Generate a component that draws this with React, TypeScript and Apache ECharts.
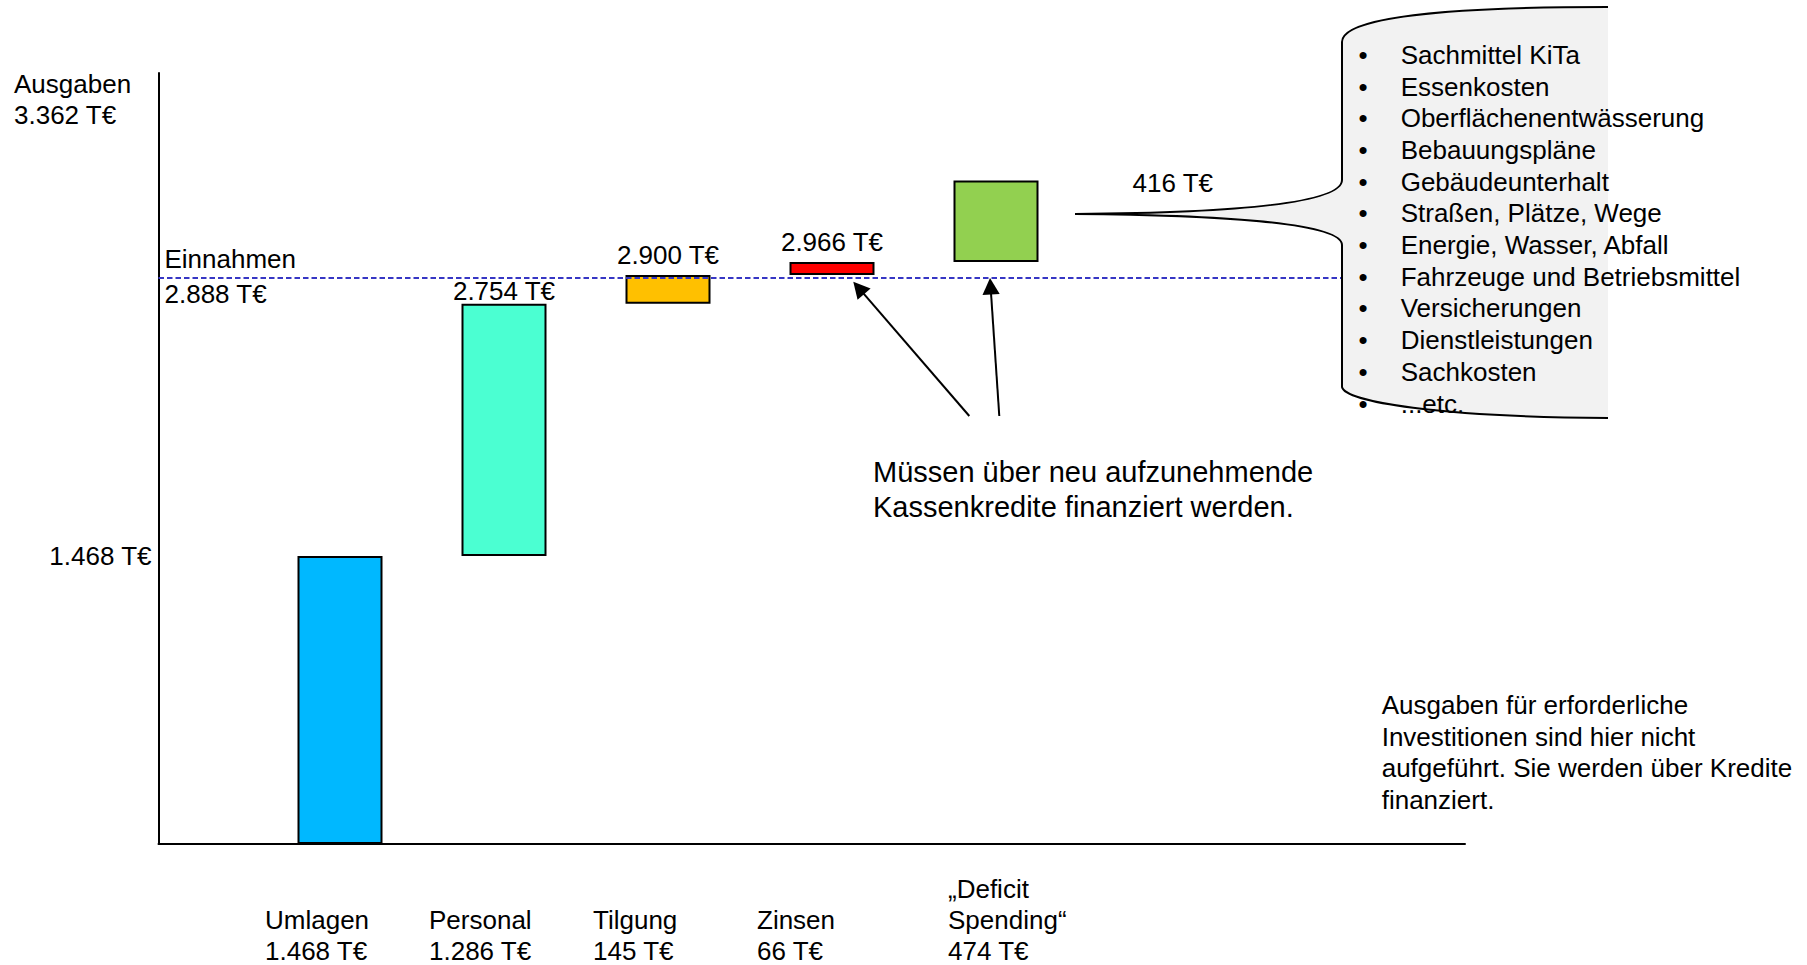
import React, { useEffect, useRef } from 'react';
import * as echarts from 'echarts';

// ---------- data ----------
const categories = ['Umlagen', 'Personal', 'Tilgung', 'Zinsen', '„Deficit Spending“'];
const amounts = [1468, 1286, 145, 66, 474]; // T€, shown under each category
const barBase = [0, 1468, 2754, 2900, 2966]; // waterfall start of each bar
const barTop = [1468, 2754, 2900, 2966, 3382]; // waterfall end of each bar
const einnahmen = 2888; // T€ income line
const ausgaben = 3362; // T€ total expenses
const yAxisMarks = [1468];
const sachkostenItems = [
  'Sachmittel KiTa',
  'Essenkosten',
  'Oberflächenentwässerung',
  'Bebauungspläne',
  'Gebäudeunterhalt',
  'Straßen, Plätze, Wege',
  'Energie, Wasser, Abfall',
  'Fahrzeuge und Betriebsmittel',
  'Versicherungen',
  'Dienstleistungen',
  'Sachkosten',
  '...etc.',
];
const kreditNote = ['Müssen über neu aufzunehmende', 'Kassenkredite finanziert werden.'];
const investNote = [
  'Ausgaben für erforderliche',
  'Investitionen sind hier nicht',
  'aufgeführt. Sie werden über Kredite',
  'finanziert.',
];

// ---------- styles ----------
const barColors = ['#00B8FF', '#4BFFD2', '#FFC000', '#FF0000', '#92D050'];
const FONT = '"Liberation Sans", Arial, Helvetica, sans-serif';
const Y_MAX = 3930;

const de = (n: number) => String(Math.round(n)).replace(/\B(?=(\d{3})+(?!\d))/g, '.');
const fmt = (n: number) => `${de(n)} T€`;

const CALLOUT_OUTLINE =
  'M 1608 7 C 1440 7 1342 18 1342 42 L 1342 180 C 1342 206 1210 213 1075 214 ' +
  'C 1210 215 1342 222 1342 245 L 1342 387 C 1345 402 1440 417 1608 418';
echarts.graphic.registerShape('calloutLine', echarts.graphic.extendPath(CALLOUT_OUTLINE, {}));
echarts.graphic.registerShape('calloutFill', echarts.graphic.extendPath(CALLOUT_OUTLINE + ' Z', {}));

function arrow(x1: number, y1: number, x2: number, y2: number) {
  const dx = x2 - x1;
  const dy = y2 - y1;
  const L = Math.hypot(dx, dy);
  const ux = dx / L;
  const uy = dy / L;
  const hl = 16.5;
  const hw = 8.6;
  const bx = x2 - ux * hl;
  const by = y2 - uy * hl;
  const px = -uy;
  const py = ux;
  return [
    { type: 'line', z: 50, shape: { x1, y1, x2: bx + ux * 2, y2: by + uy * 2 }, style: { stroke: '#000', lineWidth: 2 } },
    {
      type: 'polygon',
      z: 50,
      shape: { points: [[x2, y2], [bx + px * hw, by + py * hw], [bx - px * hw, by - py * hw]] },
      style: { fill: '#000' },
    },
  ];
}

function textBlock(lines: string[], x: number, y: number, size: number, lh: number, z = 60) {
  return {
    type: 'text',
    z,
    style: {
      text: lines.join('\n'),
      x,
      y,
      font: `${size}px ${FONT}`,
      fill: '#000',
      lineHeight: lh,
      align: 'left',
      verticalAlign: 'top',
      textAlign: 'left',
      textVerticalAlign: 'top',
    },
  };
}

export default function App() {
  const ref = useRef<HTMLDivElement>(null);

  useEffect(() => {
    if (!ref.current) return;
    const chart = echarts.init(ref.current, undefined, { renderer: 'svg' });

    const increments = barTop.map((t, i) => t - barBase[i]);
    const textStyle = { fontFamily: FONT, fontSize: 26, color: '#000' };

    const mainData = increments.map((v, i) => {
      let label: any = { show: false };
      if (i === 1) {
        label = { show: true, position: 'top', distance: 0, formatter: fmt(barTop[i]), ...textStyle, lineHeight: 26 };
      } else if (i >= 2 && i <= 3) {
        label = { show: true, position: 'top', distance: 5, formatter: fmt(barTop[i]), ...textStyle, lineHeight: 30 };
      } else if (i === 4) {
        label = {
          show: true,
          position: 'right',
          distance: 94,
          offset: [0, -38],
          formatter: fmt(v),
          ...textStyle,
          lineHeight: 30,
        };
      }
      return { value: v, itemStyle: { color: barColors[i] }, label };
    });

    const richW = { width: 150, align: 'left', fontFamily: FONT, fontSize: 26, lineHeight: 31, color: '#000' };
    const richN = { ...richW, width: 96 };

    const option: any = {
      animation: false,
      backgroundColor: '#fff',
      grid: [
        { left: 158.5, right: 342, top: 73, bottom: 121 },
        { left: 258, right: 729, top: 73, bottom: 121 },
      ],
      xAxis: [
        {
          type: 'value',
          gridIndex: 0,
          min: 0,
          max: 1,
          axisLine: { show: true, onZero: false, lineStyle: { color: '#000', width: 2 } },
          axisTick: { show: false },
          axisLabel: { show: false },
          splitLine: { show: false },
        },
        {
          type: 'category',
          gridIndex: 1,
          data: categories,
          axisLine: { show: false },
          axisTick: { show: false },
          splitLine: { show: false },
          axisLabel: {
            interval: 0,
            margin: 122.5,
            verticalAlign: 'bottom',
            formatter: (v: string, i: number) => {
              const key = i === 4 ? 'n' : 'w';
              const lines = [...v.split(' '), fmt(amounts[i])];
              return lines.map((l) => `{${key}|${l}}`).join('\n');
            },
            rich: { w: richW, n: richN },
          },
        },
      ],
      yAxis: [
        {
          type: 'value',
          gridIndex: 0,
          min: 0,
          max: Y_MAX,
          axisLine: { show: true, onZero: false, lineStyle: { color: '#000', width: 2 } },
          axisTick: { show: false },
          splitLine: { show: false },
          axisLabel: {
            show: true,
            customValues: yAxisMarks,
            margin: 7,
            formatter: (v: number) => fmt(v),
            ...textStyle,
          },
        },
        { type: 'value', gridIndex: 1, min: 0, max: Y_MAX, show: false, splitLine: { show: false } },
      ],
      series: [
        {
          type: 'line',
          xAxisIndex: 0,
          yAxisIndex: 0,
          data: [
            [0, einnahmen],
            [1, einnahmen],
          ],
          showSymbol: false,
          silent: true,
          lineStyle: { width: 0, opacity: 0 },
          z: 3,
          markLine: {
            silent: true,
            symbol: 'none',
            animation: false,
            data: [
              {
                yAxis: einnahmen,
                lineStyle: { color: '#3636C4', type: [5.5, 3], width: 2 },
                label: {
                  show: true,
                  position: 'insideStartTop',
                  distance: [6, 3],
                  formatter: 'Einnahmen',
                  ...textStyle,
                  lineHeight: 30,
                },
              },
            ],
          },
          markPoint: {
            silent: true,
            animation: false,
            symbol: 'rect',
            symbolSize: [1, 1],
            itemStyle: { color: 'rgba(0,0,0,0)' },
            data: [
              {
                coord: [0, einnahmen],
                label: {
                  show: true,
                  position: 'right',
                  distance: 5.5,
                  offset: [0, 16.5],
                  formatter: fmt(einnahmen),
                  ...textStyle,
                  lineHeight: 30,
                },
              },
            ],
          },
        },
        {
          type: 'bar',
          xAxisIndex: 1,
          yAxisIndex: 1,
          stack: 'waterfall',
          silent: true,
          barWidth: 85,
          itemStyle: { color: 'rgba(0,0,0,0)', borderWidth: 0 },
          data: barBase,
        },
        {
          type: 'bar',
          xAxisIndex: 1,
          yAxisIndex: 1,
          stack: 'waterfall',
          barWidth: 85,
          itemStyle: { borderColor: '#000', borderWidth: 2 },
          data: mainData,
          z: 4,
        },
      ],
      graphic: [
        { type: 'calloutFill', z: 100, x: 0, y: 0, style: { fill: '#F2F2F2', stroke: null, lineWidth: 0 } },
        { type: 'calloutLine', z: 101, x: 0, y: 0, style: { fill: null, stroke: '#000', lineWidth: 2 } },
        textBlock(sachkostenItems.map(() => '•'), 1358.5, 39, 26, 31.7, 102),
        textBlock(sachkostenItems, 1400.7, 39, 26, 31.7, 102),
        textBlock(['Ausgaben', fmt(ausgaben)], 14, 68.8, 26, 31),
        textBlock(kreditNote, 873, 454.5, 29, 34.7),
        textBlock(investNote, 1381.7, 689, 26, 31.7),
        ...arrow(969.3, 416, 853.3, 281.7),
        ...arrow(999.3, 416, 990, 278),
      ],
    };

    chart.setOption(option);
    return () => chart.dispose();
  }, []);

  return (
    <div
      ref={ref}
      style={{ position: 'fixed', left: 0, top: 0, width: 1807, height: 965, background: '#fff' }}
    />
  );
}
